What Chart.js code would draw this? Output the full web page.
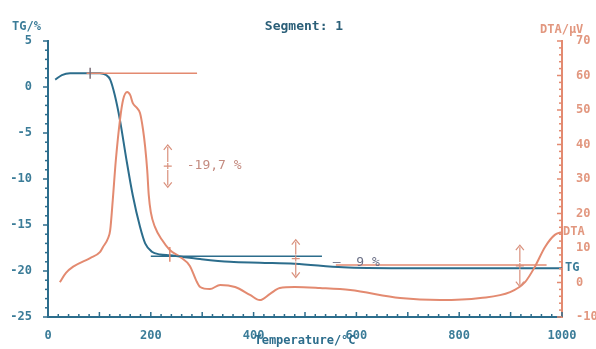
<!DOCTYPE html>
<html>
<head>
<meta charset="utf-8">
<script src="https://cdn.jsdelivr.net/npm/chart.js@4/dist/chart.umd.min.js"></script>
<style>
  body { margin: 0; background: #fff; }
  #wrap { width: 596px; height: 349px; position: relative; }
</style>
</head>
<body>
<div id="wrap"><canvas id="myChart"></canvas></div>
<script>
// TG curve (temperature in °C, mass change in %)
const tgTemp = [14, 27, 43, 101, 113, 121, 130, 140, 152, 165, 179, 189, 202, 218, 237, 296, 354, 412, 480, 574, 685, 815, 1000];
const tgValue = [0.8, 1.3, 1.5, 1.5, 1.3, 0.8, -0.9, -3.6, -7.7, -11.8, -15.2, -17.0, -17.9, -18.2, -18.3, -18.7, -19.0, -19.1, -19.2, -19.6, -19.7, -19.7, -19.7];

// DTA curve (temperature in °C, signal in uV)
const dtaTemp = [23, 35, 49, 82, 101, 107, 117, 121, 126, 132, 140, 146, 154, 160, 165, 173, 179, 185, 189, 193, 196, 200, 208, 222, 237, 257, 276, 288, 296, 315, 335, 364, 393, 412, 432, 451, 480, 529, 588, 685, 763, 841, 899, 928, 947, 967, 986, 1000];
const dtaValue = [0.1, 2.8, 4.6, 7.1, 8.8, 10.3, 12.9, 15.2, 23.9, 35.5, 47.1, 52.9, 55.2, 54.3, 52.0, 50.6, 49.1, 44.2, 39.3, 32.6, 25.4, 20.4, 16.1, 12.3, 9.4, 7.4, 4.8, 0.7, -1.3, -1.9, -0.7, -1.3, -3.6, -5.1, -3.3, -1.6, -1.3, -1.6, -2.2, -4.5, -5.1, -4.5, -2.8, 0.1, 4.5, 10.3, 13.8, 14.6];

// evaluation marks: step levels (TG %), arrows and labels
const levelFrom = [75, 200, 560];
const levelTo = [290, 533, 970];
const levelTG = [1.5, -18.4, -19.35];
const arrowTemp = [233, 482, 918];
const arrowTop = [-6.3, -16.6, -17.2];
const arrowBottom = [-10.9, -20.7, -21.7];
const stepLabels = ["-19,7 %", "–  9 %"];

const xTicks = ["0", "200", "400", "600", "800", "1000"];

const blue = "#2c6d8c";
const blueText = "#3b7c98";
const salmon = "#e38a70";
const salmonText = "#e2977f";
const monoFont = "'DejaVu Sans Mono', monospace";

const ctx = document.getElementById("myChart");

// minor / major tick marks, like the instrument print
const tickMarks = {
  id: "tickMarks",
  afterDraw(chart) {
    const c = chart.ctx;
    const { x, y, y1 } = chart.scales;
    const area = chart.chartArea;
    c.save();
    c.lineWidth = 1.5;
    c.strokeStyle = blue;
    for (let v = 0; v <= 1000; v += 20) {
      const px = x.getPixelForValue(v);
      const len = v % 100 === 0 ? 5 : 3;
      c.beginPath();
      c.moveTo(px, area.bottom);
      c.lineTo(px, area.bottom - len);
      c.stroke();
    }
    for (let v = -25; v <= 5; v += 1) {
      const py = y.getPixelForValue(v);
      const len = v % 5 === 0 ? 5 : 3;
      c.beginPath();
      c.moveTo(area.left, py);
      c.lineTo(area.left - len, py);
      c.stroke();
    }
    c.strokeStyle = salmon;
    for (let v = -10; v <= 70; v += 2) {
      const py = y1.getPixelForValue(v);
      const len = v % 10 === 0 ? 5 : 3;
      c.beginPath();
      c.moveTo(area.right, py);
      c.lineTo(area.right - len, py);
      c.stroke();
    }
    c.restore();
  },
};

// step evaluation lines, arrows and texts
const evaluation = {
  id: "evaluation",
  afterDatasetsDraw(chart) {
    const c = chart.ctx;
    const { x, y } = chart.scales;
    c.save();
    c.lineWidth = 1.5;
    const levelColors = [salmon, blue, salmon];
    levelTG.forEach((lv, i) => {
      c.strokeStyle = levelColors[i];
      c.beginPath();
      c.moveTo(x.getPixelForValue(levelFrom[i]), y.getPixelForValue(lv));
      c.lineTo(x.getPixelForValue(levelTo[i]), y.getPixelForValue(lv));
      c.stroke();
    });
    // small onset marks
    c.strokeStyle = "#7a6e78";
    c.beginPath();
    c.moveTo(x.getPixelForValue(82), y.getPixelForValue(2.1));
    c.lineTo(x.getPixelForValue(82), y.getPixelForValue(0.9));
    c.stroke();
    c.strokeStyle = salmon;
    c.beginPath();
    c.moveTo(x.getPixelForValue(237), y.getPixelForValue(-17.4));
    c.lineTo(x.getPixelForValue(237), y.getPixelForValue(-19.0));
    c.stroke();

    c.lineWidth = 1.2;
    c.strokeStyle = "#d9907c";
    arrowTemp.forEach((t, i) => {
      const px = x.getPixelForValue(t);
      const top = y.getPixelForValue(arrowTop[i]);
      const bot = y.getPixelForValue(arrowBottom[i]);
      const mid = (top + bot) / 2;
      c.beginPath();
      c.moveTo(px - 4, top + 5);
      c.lineTo(px, top);
      c.lineTo(px + 4, top + 5);
      c.moveTo(px - 4, bot - 5);
      c.lineTo(px, bot);
      c.lineTo(px + 4, bot - 5);
      c.moveTo(px, top + 2);
      c.lineTo(px, mid - 4);
      c.moveTo(px, mid + 4);
      c.lineTo(px, bot - 2);
      c.moveTo(px - 4, mid);
      c.lineTo(px + 4, mid);
      c.moveTo(px, mid - 3);
      c.lineTo(px, mid + 3);
      c.stroke();
    });

    c.font = "13px " + monoFont;
    c.textBaseline = "middle";
    c.textAlign = "left";
    c.fillStyle = "#c48b80";
    c.fillText(stepLabels[0], x.getPixelForValue(arrowTemp[0]) + 19, y.getPixelForValue((arrowTop[0] + arrowBottom[0]) / 2));
    c.fillStyle = "#6a6f86";
    c.fillText(stepLabels[1], x.getPixelForValue(arrowTemp[1]) + 37, y.getPixelForValue(-19.1));

    // curve names at right end
    const area = chart.chartArea;
    c.font = "bold 12px " + monoFont;
    c.fillStyle = blueText;
    c.fillText("TG", area.right + 3, y.getPixelForValue(tgValue[tgValue.length - 1]));
    c.fillStyle = salmonText;
    c.fillText("DTA", area.right + 1, chart.scales.y1.getPixelForValue(dtaValue[dtaValue.length - 1]));
    c.restore();
  },
};

// axis titles and header
const headerText = {
  id: "headerText",
  afterDraw(chart) {
    const c = chart.ctx;
    c.save();
    c.font = "bold 12px " + monoFont;
    c.textBaseline = "middle";
    c.fillStyle = blueText;
    c.textAlign = "left";
    c.fillText("TG/%", 12, 27);
    c.fillStyle = salmonText;
    c.fillText("DTA/µV", 540, 30);
    c.fillStyle = "#2b5f78";
    c.textAlign = "center";
    c.font = "bold 13px " + monoFont;
    c.fillText("Segment: 1", 304, 27);
    c.font = "bold 12px " + monoFont;
    c.fillStyle = blue;
    c.fillText("Temperature/°C", 305, 341);
    c.restore();
  },
};

const tgData = tgTemp.map((t, i) => ({ x: t, y: tgValue[i] }));
const dtaData = dtaTemp.map((t, i) => ({ x: t, y: dtaValue[i] }));

const config = {
  type: "line",
  data: {
    datasets: [
      {
        label: "DTA",
        data: dtaData,
        yAxisID: "y1",
        borderColor: salmon,
        borderWidth: 2,
        pointRadius: 0,
        cubicInterpolationMode: "monotone",
      },
      {
        label: "TG",
        data: tgData,
        yAxisID: "y",
        borderColor: blue,
        borderWidth: 2,
        pointRadius: 0,
        cubicInterpolationMode: "monotone",
      },
    ],
  },
  options: {
    responsive: true,
    maintainAspectRatio: false,
    animation: false,
    layout: { padding: { top: 41, left: 0, right: 0, bottom: 0 } },
    plugins: {
      legend: { display: false },
      tooltip: { enabled: false },
    },
    scales: {
      x: {
        type: "linear",
        min: 0,
        max: 1000,
        afterFit: (s) => { s.height = 32; },
        grid: { display: false },
        border: { color: blue, width: 2 },
        ticks: {
          stepSize: 200,
          padding: 4,
          color: blueText,
          font: { family: monoFont, size: 12, weight: "bold" },
          callback: (v) => (v % 200 === 0 ? xTicks[v / 200] : ""),
          maxRotation: 0,
        },
      },
      y: {
        position: "left",
        min: -25,
        max: 5,
        afterFit: (s) => { s.width = 48; },
        grid: { display: false },
        border: { color: blue, width: 2 },
        ticks: {
          stepSize: 5,
          padding: 8,
          color: blueText,
          font: { family: monoFont, size: 12, weight: "bold" },
        },
      },
      y1: {
        position: "right",
        min: -10,
        max: 70,
        afterFit: (s) => { s.width = 34; },
        grid: { display: false },
        border: { color: salmon, width: 2 },
        ticks: {
          stepSize: 10,
          padding: 6,
          color: salmonText,
          font: { family: monoFont, size: 12, weight: "bold" },
        },
      },
    },
  },
  plugins: [tickMarks, evaluation, headerText],
};

let myChart = new Chart(ctx, config);
</script>
</body>
</html>
